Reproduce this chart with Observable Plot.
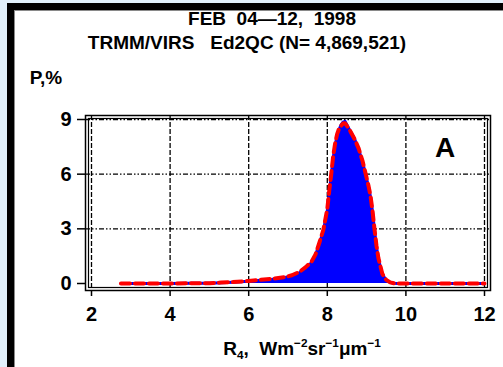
<!DOCTYPE html>
<html><head><meta charset="utf-8">
<script src="https://cdn.jsdelivr.net/npm/d3@7"></script>
<script src="https://cdn.jsdelivr.net/npm/@observablehq/plot@0.6"></script>
<style>
html,body{margin:0;padding:0;width:503px;height:367px;overflow:hidden;background:#fff;}
#page{position:relative;width:503px;height:367px;background:#fff;overflow:hidden;}
.bg{position:absolute;}
.t{position:absolute;font-family:"Liberation Sans",Arial,sans-serif;font-weight:bold;color:#000;white-space:pre;line-height:1;transform:translate(-50%,-50%);}
#chart{position:absolute;left:0;top:0;}
sup,sub{font-size:62%;line-height:0;}
</style></head><body>
<div id="page">
  <div class="bg" style="left:0;top:0;width:503px;height:3px;background:#e1f0fb"></div>
  <div class="bg" style="left:0;top:0;width:7px;height:367px;background:#e1f0fb"></div>
  <div class="bg" style="left:7px;top:3px;width:496px;height:7px;background:#000"></div>
  <div class="bg" style="left:7px;top:3px;width:7px;height:364px;background:#000"></div>
  <div class="bg" style="left:14px;top:10px;width:489px;height:1px;background:#8a8a8a"></div>
  <div class="bg" style="left:14px;top:10px;width:1px;height:357px;background:#8a8a8a"></div>
  <div id="chart"></div>
  <div class="t" style="left:272px;top:18px;font-size:19px">FEB  04—12,  1998</div>
  <div class="t" style="left:247px;top:42px;font-size:19px">TRMM/VIRS   Ed2QC (N= 4,869,521)</div>
  <div class="t" style="left:46px;top:77px;font-size:19px">P,%</div>
  <div class="t" style="left:302px;top:348px;font-size:19px">R<sub>4</sub>,  Wm<sup>−2</sup>sr<sup>−1</sup>μm<sup>−1</sup></div>
</div>
<script>
const R4 = [2.75,3.5,4.0,4.5,5.0,5.3,5.6,6.0,6.3,6.6,6.9,7.1,7.3,7.45,7.6,7.7,7.8,7.9,8.0,8.05,8.1,8.15,8.2,8.25,8.3,8.35,8.4,8.45,8.5,8.55,8.6,8.7,8.8,8.9,9.0,9.05,9.1,9.15,9.2,9.25,9.3,9.4,9.5,9.6,9.7,9.8,10.0,11.0,12.0];
const pBlue = [0,0,0,0.01,0.02,0.04,0.07,0.12,0.18,0.24,0.32,0.42,0.6,0.85,1.15,1.55,2.2,2.9,4.0,5.0,5.9,6.9,7.6,8.1,8.45,8.7,8.85,8.9,8.7,8.5,8.3,7.9,7.35,6.65,5.75,5.3,4.75,3.95,2.95,2.05,1.35,0.5,0.18,0.05,0.01,0,0,0,0];
const pRed = [0,0,0,0.01,0.02,0.05,0.08,0.14,0.2,0.26,0.34,0.45,0.65,0.9,1.2,1.6,2.25,2.95,4.1,5.1,6.0,7.0,7.7,8.2,8.5,8.65,8.78,8.8,8.65,8.5,8.3,7.9,7.4,6.7,5.8,5.35,4.8,4.0,3.0,2.1,1.4,0.53,0.2,0.06,0.01,0,0,0,0];
const xTicks = [2,4,6,8,10,12];
const yTicks = [0,3,6,9];
const yGrid = [3,6,9];
const panelLabel = "A";

const data = R4.map((x,i)=>({x, blue:pBlue[i], red:pRed[i]}));

const chart = Plot.plot({
  width:503, height:367,
  marginLeft:85, marginRight:13, marginTop:115, marginBottom:77,
  insetLeft:6, insetRight:6, insetTop:4, insetBottom:7,
  x:{domain:[2,12]},
  y:{domain:[0,9]},
  style:{background:"transparent", fontFamily:"'Liberation Sans', Arial, sans-serif", fontSize:"20px", fontWeight:"bold", color:"#000"},
  marks:[
    Plot.ruleX(xTicks, {stroke:"#000", strokeWidth:1.3, strokeDasharray:"5,2"}),
    Plot.ruleY(yGrid, {stroke:"#000", strokeWidth:1.3, strokeDasharray:"5,2,1.5,2,1.5,2"}),
    Plot.areaY(data, {x:"x", y:"blue", fill:"#0000ff"}),
    Plot.lineY(data, {x:"x", y:"blue", stroke:"#0000ff", strokeWidth:3}),
    Plot.lineY(data, {x:"x", y:"red", stroke:"#ff0000", strokeWidth:4, strokeDasharray:"9,5"}),
    Plot.frame({stroke:"#000", strokeWidth:1.5}),
    Plot.frame({stroke:"#000", strokeWidth:1.2, inset:3}),
    Plot.axisY(yTicks, {anchor:"left", tickSize:8, tickPadding:6, label:null, stroke:"#000", strokeWidth:1.5}),
    Plot.axisX(xTicks, {anchor:"bottom", tickSize:6, tickPadding:10, label:null, stroke:"#000", strokeWidth:1.5}),
    Plot.text([panelLabel], {x:()=>11, y:()=>7.45, text:d=>d, fontSize:28, fontWeight:"bold", fill:"#000"})
  ]
});
document.getElementById("chart").appendChild(chart);
</script>
</body></html>
